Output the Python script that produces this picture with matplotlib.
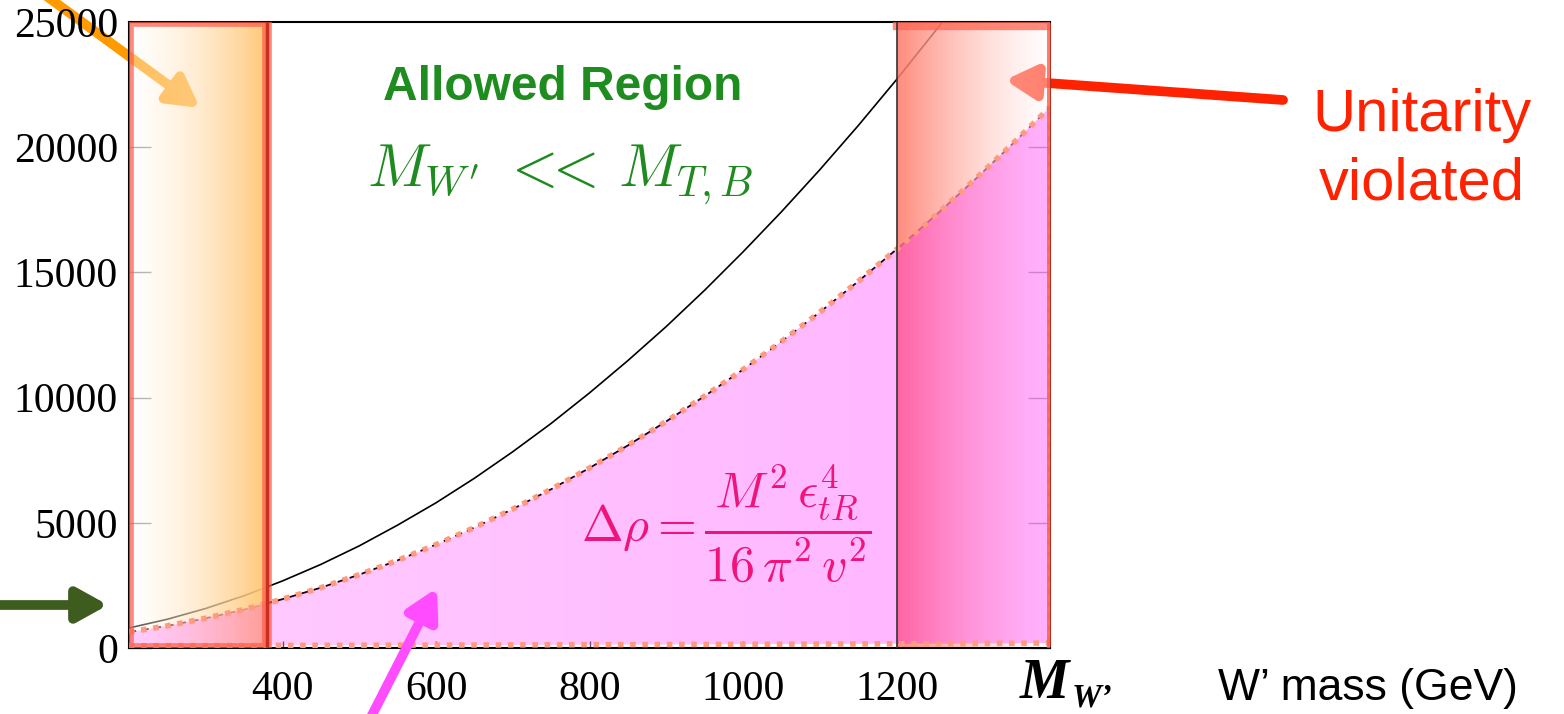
"""
W' mass allowed region plot: unitarity bands, Delta rho constraint
and the M_W' << M_T,B curve.
"""
import numpy as np
import matplotlib.pyplot as plt
from matplotlib.patches import Rectangle

# values
mass = [200, 250, 300, 350, 400, 450, 500, 550, 600, 650, 700, 750, 800,
        850, 900, 950, 1000, 1050, 1100, 1150, 1200, 1250, 1300, 1350, 1400]
rho_upper = [640, 885, 1190, 1540, 1950, 2410, 2930, 3500, 4130, 4810, 5550,
             6340, 7190, 8090, 9050, 10060, 11120, 12240, 13410, 14640, 15920,
             17260, 18650, 20100, 21600]
rho_lower = [90, 95, 100, 100, 105, 110, 110, 115, 120, 120, 125, 130, 135,
             140, 140, 145, 150, 155, 160, 165, 170, 175, 180, 190, 200]
solid_mass = [200, 250, 300, 350, 400, 450, 500, 550, 600, 650, 700, 750, 800,
              850, 900, 950, 1000, 1050, 1100, 1150, 1200, 1250, 1300]
solid_vals = [800, 1150, 1580, 2090, 2680, 3340, 4080, 4910, 5800, 6780, 7840,
              8970, 10190, 11480, 12840, 14290, 15820, 17420, 19100, 20860,
              22700, 24620, 26610]
left_band = (200, 380)
right_band = (1200, 1400)
xticks = [400, 600, 800, 1000, 1200]
yticks = [0, 5000, 10000, 15000, 20000, 25000]

plt.rcParams['mathtext.fontset'] = 'cm'

fig = plt.figure(figsize=(15.64, 7.14), dpi=100)
ax = fig.add_axes([0.0825, 0.0924, 0.5889, 0.8768])
ax.set_facecolor('none')

# curves (drawn under the bands)
ax.plot(solid_mass, solid_vals, color='black', lw=1.2, zorder=1)
ax.plot(mass, rho_upper, color='black', lw=1.3, ls=(0, (4, 3)), zorder=1)

# gradient bands
n = 256
g = np.linspace(0, 1, n)
lb = np.zeros((1, n, 4))
lb[0, :, 0] = 1.0
lb[0, :, 1] = 1.0 + g * (196 / 255 - 1.0)
lb[0, :, 2] = 1.0 + g * (110 / 255 - 1.0)
lb[0, :, 3] = 0.35 + 0.6 * g
ax.imshow(lb, extent=[left_band[0], left_band[1], 0, 25000],
          aspect='auto', zorder=2, interpolation='bilinear')

rb = np.zeros((1, n, 4))
rb[0, :, 0] = 1.0
rb[0, :, 1] = 124 / 255 + g * (1.0 - 124 / 255)
rb[0, :, 2] = 108 / 255 + g * (1.0 - 108 / 255)
rb[0, :, 3] = 0.88 - 0.45 * g
ax.imshow(rb, extent=[right_band[0], right_band[1], 0, 25000],
          aspect='auto', zorder=2, interpolation='bilinear')

# translucent magenta Delta rho region
poly = ax.fill_between(mass, rho_lower, rho_upper, facecolor='none',
                       edgecolor='none', zorder=3)
pk = np.zeros((1, n, 4))
pk[0, :, 0] = 1.0
pk[0, :, 1] = 0.0
pk[0, :, 2] = 1.0
pk[0, :, 3] = 0.2 + 0.1 * g
im = ax.imshow(pk, extent=[mass[0], mass[-1], 0, 25000],
               aspect='auto', zorder=3, interpolation='bilinear')
im.set_clip_path(poly.get_paths()[0], transform=ax.transData)

dot = dict(color='#ff9a80', lw=4, ls=(0, (1.0, 1.2)), zorder=4)
ax.plot(mass, rho_upper, **dot)
ax.plot(mass, rho_lower, **dot)
ax.plot([mass[-1], mass[-1]], [rho_lower[-1], rho_upper[-1]], **dot)

# band outlines
ax.add_patch(Rectangle((left_band[0], 0), left_band[1] - left_band[0], 25000,
                       fill=False, ec=(1, 0.35, 0.28, 0.7), lw=7, zorder=5))
ax.plot([left_band[1], left_band[1]], [0, 25000], color='#c8301e', lw=2.5, zorder=5)
ax.plot([right_band[0], right_band[1]], [24850, 24850], color=(1, 0.4, 0.32, 0.75),
        lw=6, zorder=5)
ax.plot([right_band[1], right_band[1]], [0, 25000], color=(1, 0.35, 0.28, 0.8),
        lw=5, zorder=5)
ax.plot([right_band[0], right_band[0]], [0, 25000], color='#333333', lw=1.2, zorder=6)

ax.set_xlim(200, 1400)
ax.set_ylim(0, 25000)
ax.set_xticks(xticks)
ax.set_yticks(yticks)
ax.set_xticklabels([str(v) for v in xticks], family='Liberation Serif', fontsize=30)
ax.set_yticklabels([str(v) for v in yticks], family='Liberation Serif', fontsize=30)
ax.tick_params(axis='y', direction='in', length=16, width=1, color='#888888',
               right=True, pad=8)
ax.tick_params(axis='x', direction='in', length=5, width=1, color='#555555',
               pad=16)
for s in ['left', 'bottom', 'top']:
    ax.spines[s].set_linewidth(1.5)
ax.spines['right'].set_color('#b03020')

# texts
ax.text(765, 22400, 'Allowed Region', color='#1e8c1e', fontsize=34.5,
        fontweight='bold', family='Liberation Sans', ha='center', va='center', zorder=7)
ax.text(762, 18900, r"$M_{W'}\ <\!\!\!<\, M_{T,B}$", color='#1f8a1f',
        fontsize=43, ha='center', va='center', zorder=7)
ax.text(978, 5000, r"$\Delta\rho = \dfrac{M^2\,\epsilon_{tR}^4}{16\,\pi^2\,v^2}$",
        color='#f0147a', fontsize=36, ha='center', va='center', zorder=7)

fig.text(0.909, 0.79, 'Unitarity\nviolated', color='#ff2200', fontsize=43,
         family='Liberation Sans', ha='center', va='center', linespacing=1.3)
fig.text(0.652, 0.022, 'M', fontsize=40, fontweight='bold', fontstyle='italic',
         family='Liberation Serif', ha='left', va='baseline')
fig.text(0.685, 0.011, 'W’', fontsize=24, fontweight='bold', fontstyle='italic',
         family='Liberation Serif', ha='left', va='baseline')
fig.text(0.779, 0.02, 'W’ mass (GeV)', fontsize=32, family='Liberation Sans',
         ha='left', va='baseline')

# arrows
def arrow(start, tip, color, z):
    ax.annotate('', xy=tip, xytext=start, xycoords='figure pixels',
                textcoords='figure pixels', annotation_clip=False, zorder=z,
                arrowprops=dict(arrowstyle='-|>,head_length=1.8,head_width=1.0',
                                color=color, lw=7, shrinkA=0, shrinkB=0))

arrow((45, 719), (200, 606), '#ff9a00', 1.5)
arrow((1283, 614), (1005, 634), '#ff2200', 1.5)
arrow((0, 109), (108, 109), '#3d5c1e', 8)
arrow((370, -5), (437, 126), '#ff4cff', 8)

fig.savefig('out.png', dpi=100)
